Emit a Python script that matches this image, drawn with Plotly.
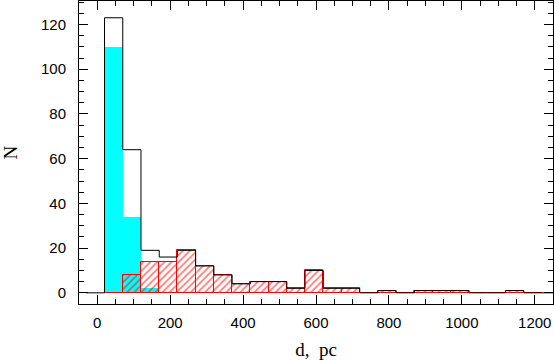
import plotly.graph_objects as go

# ── Histogram data (bin width 50 pc) ──────────────────────────────────────────

BIN_WIDTH = 50

# total sample: step outline, bins start at -30
total_edges = [-30 + BIN_WIDTH * k for k in range(27)]
total_counts = [0, 123, 64, 19, 16, 19, 12, 8, 4, 5, 5, 2, 10, 2, 2, 0,
                1, 0, 1, 1, 1, 0, 0, 1, 0, 0]

# cyan subsample, bins start at 20
cyan_left = [20, 70, 120]
cyan_counts = [110, 34, 2]

# red hatched subsample, bins start at 20
red_left = [20 + BIN_WIDTH * k for k in range(24)]
red_counts = [0, 8, 14, 14, 19, 12, 8, 4, 5, 5, 2, 10, 2, 2, 0,
              1, 0, 1, 1, 1, 0, 0, 1, 0]

TICK_FONT = dict(family="Liberation Sans", size=15, color="black")
TITLE_FONT = dict(family="Liberation Serif", size=19, color="black")

fig = go.Figure()

fig.add_trace(go.Bar(
    x=[l + BIN_WIDTH / 2 for l in cyan_left],
    y=cyan_counts,
    width=BIN_WIDTH,
    marker=dict(color="#00ffff", line=dict(color="#00ffff", width=0)),
))

fig.add_trace(go.Bar(
    x=[l + BIN_WIDTH / 2 for l in red_left],
    y=red_counts,
    width=BIN_WIDTH,
    marker=dict(
        color="rgba(0,0,0,0)",
        line=dict(color="#ff0000", width=1),
        pattern=dict(shape="/", fgcolor="#ff0000", bgcolor="rgba(0,0,0,0)",
                     size=5, solidity=0.35),
    ),
))

# step outline of the full sample
fig.add_trace(go.Scatter(
    x=total_edges,
    y=total_counts + [total_counts[-1]],
    mode="lines",
    line=dict(color="black", width=1, shape="hv"),
))

axis_common = dict(
    showline=True, linecolor="black", linewidth=1, mirror="ticks",
    ticks="inside", ticklen=9, tickcolor="black", tickwidth=1,
    showgrid=False, zeroline=False, tickfont=TICK_FONT, automargin=False,
)

fig.update_layout(
    width=554, height=360,
    margin=dict(l=79, r=1, t=1, b=56),
    plot_bgcolor="white", paper_bgcolor="white",
    barmode="overlay", bargap=0, showlegend=False,
    xaxis=dict(
        range=[-50, 1250], dtick=200, tick0=0,
        minor=dict(dtick=50, ticks="inside", ticklen=5, tickcolor="black"),
        title=dict(text="d,\u00a0\u00a0pc", font=TITLE_FONT, standoff=12),
        ticklabelstandoff=5,
        **axis_common,
    ),
    yaxis=dict(
        range=[-5, 130.5], dtick=20, tick0=0,
        minor=dict(dtick=5, ticks="inside", ticklen=5, tickcolor="black"),
        title=dict(text="N", font=TITLE_FONT, standoff=24),
        ticklabelstandoff=9,
        **axis_common,
    ),
)

# page body has a default 8px margin; drop it so the figure fills the window
fig.write_html("out.html", config={"displayModeBar": False},
               post_script="document.body.style.margin='0';")
